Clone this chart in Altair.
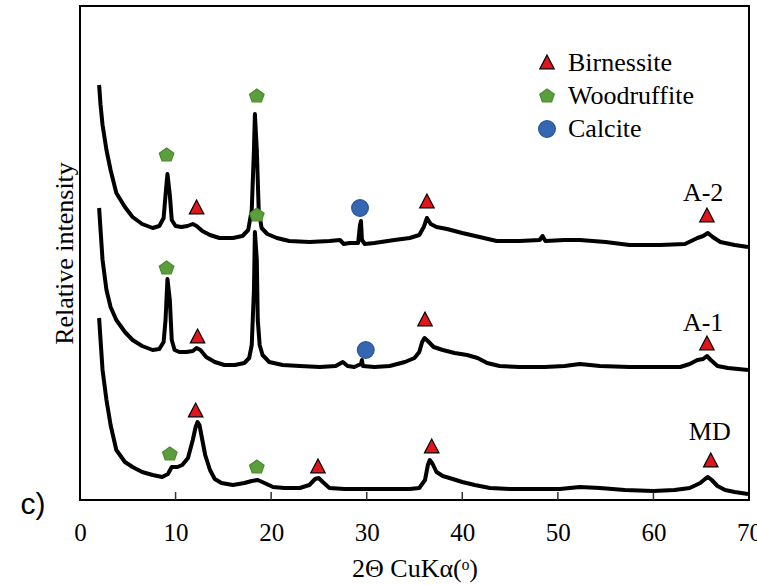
import altair as alt
import pandas as pd

# ---------------- data (2theta in degrees, relative intensity in arbitrary units) --------------
md_x = [2.0, 2.15, 2.36, 2.77, 3.2, 3.8, 4.7, 5.5, 6.5, 7.6, 8.6, 9.2, 9.6, 10.2, 10.7, 11.3, 11.8,
        12.1, 12.3, 12.5, 12.8, 13.1, 13.6, 14.1, 14.8, 16.0, 17.2, 17.97, 18.6, 19.3, 20.2, 21.4,
        23.0, 24.0, 24.6, 24.97, 25.4, 26.1, 27.7, 30.0, 32.4, 34.5, 35.5, 36.1, 36.4, 36.6, 36.9,
        37.3, 37.96, 39.0, 40.0, 41.3, 42.9, 45.0, 48.1, 50.2, 52.3, 54.4, 57.0, 60.0, 62.2, 63.8,
        64.9, 65.4, 65.7, 66.1, 66.7, 67.5, 68.5, 69.9]
md_y = [182, 160, 130, 100, 75, 50, 38, 33, 28, 25, 23, 26, 33, 33, 35, 42, 60,
        73, 78, 75, 60, 45, 30, 21, 17, 15, 17, 19, 20, 17, 13, 12,
        12, 15, 21, 22, 18, 12, 11, 11, 11, 11, 12, 20, 35, 40, 36,
        28, 24, 21, 18, 15, 12, 11, 11, 11, 13, 12, 10, 9, 10, 12,
        17, 21, 23, 20, 14, 10, 8, 6]

a1_x = [2.0, 2.15, 2.36, 2.77, 3.2, 3.8, 4.7, 5.5, 6.5, 7.6, 8.3, 8.75, 8.95, 9.15, 9.4, 9.6, 9.9,
        10.4, 11.15, 11.8, 12.2, 12.6, 13.2, 14.1, 15.1, 16.2, 17.2, 17.7, 17.97, 18.2, 18.3, 18.5,
        18.6, 18.8, 19.1, 19.8, 21.2, 23.0, 25.1, 26.75, 27.5, 28.0, 28.7, 29.4, 29.5, 29.6, 30.8,
        32.4, 34.0, 35.0, 35.5, 35.8, 36.05, 36.5, 37.0, 37.96, 39.2, 40.5, 41.6, 42.6, 43.9, 46.0,
        48.6, 50.7, 52.3, 54.4, 57.5, 60.7, 62.8, 63.8, 64.6, 65.2, 65.6, 66.0, 66.7, 67.8, 69.9]
a1_y = [292, 270, 240, 210, 193, 180, 168, 160, 154, 150, 151, 158, 180, 221, 200, 160, 150,
        148, 148, 149, 152, 150, 143, 138, 135, 135, 137, 142, 155, 210, 268, 240,
        180, 155, 145, 138, 135, 134, 133, 134, 138, 134, 133, 136, 140, 134, 133,
        134, 138, 142, 148, 158, 162, 158, 153, 150, 147, 145, 142, 137, 134, 133,
        133, 134, 136, 134, 133, 133, 133, 136, 140, 141, 144, 140, 134, 132, 130]

a2_x = [2.0, 2.15, 2.36, 2.77, 3.2, 3.8, 4.7, 5.5, 6.5, 7.6, 8.3, 8.75, 8.95, 9.15, 9.4, 9.6, 10.0,
        10.6, 11.25, 11.8, 12.2, 12.8, 13.6, 14.6, 16.0, 17.0, 17.6, 17.97, 18.2, 18.3, 18.5, 18.7,
        19.0, 19.6, 20.6, 21.9, 24.0, 26.1, 27.2, 27.6, 28.2, 29.1, 29.3, 29.4, 29.5, 29.8, 30.8,
        32.9, 34.5, 35.5, 35.97, 36.3, 36.7, 37.3, 38.4, 40.0, 41.8, 43.6, 46.0, 48.1, 48.4, 48.7,
        50.7, 52.3, 55.0, 57.5, 60.7, 63.3, 64.6, 65.2, 65.7, 66.2, 67.0, 68.5, 69.9]
a2_y = [415, 395, 375, 350, 330, 307, 293, 283, 276, 272, 274, 282, 305, 326, 305, 280, 274,
        273, 274, 276, 274, 269, 265, 262, 262, 264, 270, 290, 350, 386, 350, 290,
        272, 266, 262, 259, 258, 259, 260, 256, 257, 257, 275, 279, 260, 256, 257,
        260, 262, 265, 273, 282, 276, 273, 271, 267, 263, 259, 259, 260, 264, 259,
        260, 260, 258, 255, 255, 256, 262, 264, 267, 263, 258, 255, 253]

# phase markers
mk_x = [9.06, 18.5, 12.2, 29.3, 36.3, 65.6,
        9.06, 18.5, 12.3, 29.9, 36.1, 65.6,
        12.1, 9.4, 18.5, 24.9, 36.8, 66.0]
mk_y = [345, 404, 292, 292, 298, 284,
        232, 285, 163, 150, 180, 156,
        89, 46, 33, 33, 53, 39]
mk_phase = ["Woodruffite", "Woodruffite", "Birnessite", "Calcite", "Birnessite", "Birnessite",
            "Woodruffite", "Woodruffite", "Birnessite", "Calcite", "Birnessite", "Birnessite",
            "Birnessite", "Woodruffite", "Woodruffite", "Birnessite", "Birnessite", "Birnessite"]
phases = ["Birnessite", "Woodruffite", "Calcite"]

# sample labels
lab_text = ["A-2", "A-1", "MD"]
lab_x = [65.2, 65.2, 65.9]
lab_y = [307, 177, 68]

x_ticks = [0, 10, 20, 30, 40, 50, 60, 70]
inner_ticks = [10, 20, 30, 40, 50, 60]

# ---------------- tables ----------------
curves = pd.concat([
    pd.DataFrame({"theta": md_x, "intensity": md_y, "sample": "MD"}),
    pd.DataFrame({"theta": a1_x, "intensity": a1_y, "sample": "A-1"}),
    pd.DataFrame({"theta": a2_x, "intensity": a2_y, "sample": "A-2"}),
])
markers = pd.DataFrame({"theta": mk_x, "intensity": mk_y, "phase": mk_phase})
labels = pd.DataFrame({"theta": lab_x, "intensity": lab_y, "text": lab_text})
ticks = pd.DataFrame({"theta": inner_ticks})

SERIF = "Liberation Serif"
xscale = alt.Scale(domain=[0, 70], nice=False)
yscale = alt.Scale(domain=[0, 494], nice=False)

xenc = alt.X("theta:Q", scale=xscale,
             axis=alt.Axis(values=x_ticks, ticks=False, domain=False, grid=False,
                           labelFont=SERIF, labelFontSize=25, labelColor="black",
                           labelPadding=20, labelFlush=False,
                           title="2Θ CuKα(ᵒ)", titleFont=SERIF, titleFontSize=26,
                           titleFontWeight="normal", titleColor="black", titlePadding=10))
yenc = alt.Y("intensity:Q", scale=yscale,
             axis=alt.Axis(labels=False, ticks=False, domain=False, grid=False,
                           title="Relative intensity", titleFont=SERIF, titleFontSize=26,
                           titleFontWeight="normal", titleColor="black", titlePadding=3))

lines = alt.Chart(curves).mark_line(color="black", strokeWidth=4, strokeJoin="round").encode(
    x=xenc, y=yenc, detail="sample:N", order="theta:Q")

TRI = "M0,-1.15L1.05,0.85L-1.05,0.85Z"
PENT = "M0,-0.9L0.95,-0.22L0.6,0.78L-0.6,0.78L-0.95,-0.22Z"
CIRC = "circle"

pts = alt.Chart(markers).mark_point(filled=True, opacity=1, strokeWidth=1.2).encode(
    x=alt.X("theta:Q", scale=xscale),
    y=alt.Y("intensity:Q", scale=yscale),
    fill=alt.Fill("phase:N", scale=alt.Scale(domain=phases, range=["#e3151c", "#5c9e3c", "#3566b2"]),
                  legend=alt.Legend(title=None, orient="none", legendX=454, legendY=44,
                                    labelFont=SERIF, labelFontSize=26, labelColor="black",
                                    labelOffset=8, rowPadding=7, symbolSize=190,
                                    symbolStrokeWidth=1.2, padding=0)),
    shape=alt.Shape("phase:N", scale=alt.Scale(domain=phases, range=[TRI, PENT, CIRC])),
    stroke=alt.Stroke("phase:N", scale=alt.Scale(domain=phases, range=["#000000", "#4a8a30", "#2a5494"])),
    size=alt.Size("phase:N", scale=alt.Scale(domain=phases, range=[190, 280, 145])),
)

txt = alt.Chart(labels).mark_text(font=SERIF, fontSize=26, color="black",
                                  align="center", baseline="middle").encode(
    x=alt.X("theta:Q", scale=xscale), y=alt.Y("intensity:Q", scale=yscale), text="text:N")

tick_marks = alt.Chart(ticks).mark_rule(color="#333333", strokeWidth=1.5).encode(
    x=alt.X("theta:Q", scale=xscale), y=alt.value(494), y2=alt.value(486))

panel_label = alt.Chart(pd.DataFrame({"t": ["c)"]})).mark_text(
    font="Liberation Sans", fontSize=30, color="black", align="center", baseline="middle"
).encode(text="t:N", x=alt.value(-47), y=alt.value(499))

chart = alt.layer(lines, tick_marks, pts, txt, panel_label).properties(
    width=669, height=494,
    autosize=alt.AutoSizeParams(type="none"),
    padding={"left": 80, "top": 6, "right": 8, "bottom": 85},
).configure(background="white", font=SERIF).configure_view(stroke="black", strokeWidth=2)

chart.save("out.html", embed_options={"renderer": "svg", "actions": False})
